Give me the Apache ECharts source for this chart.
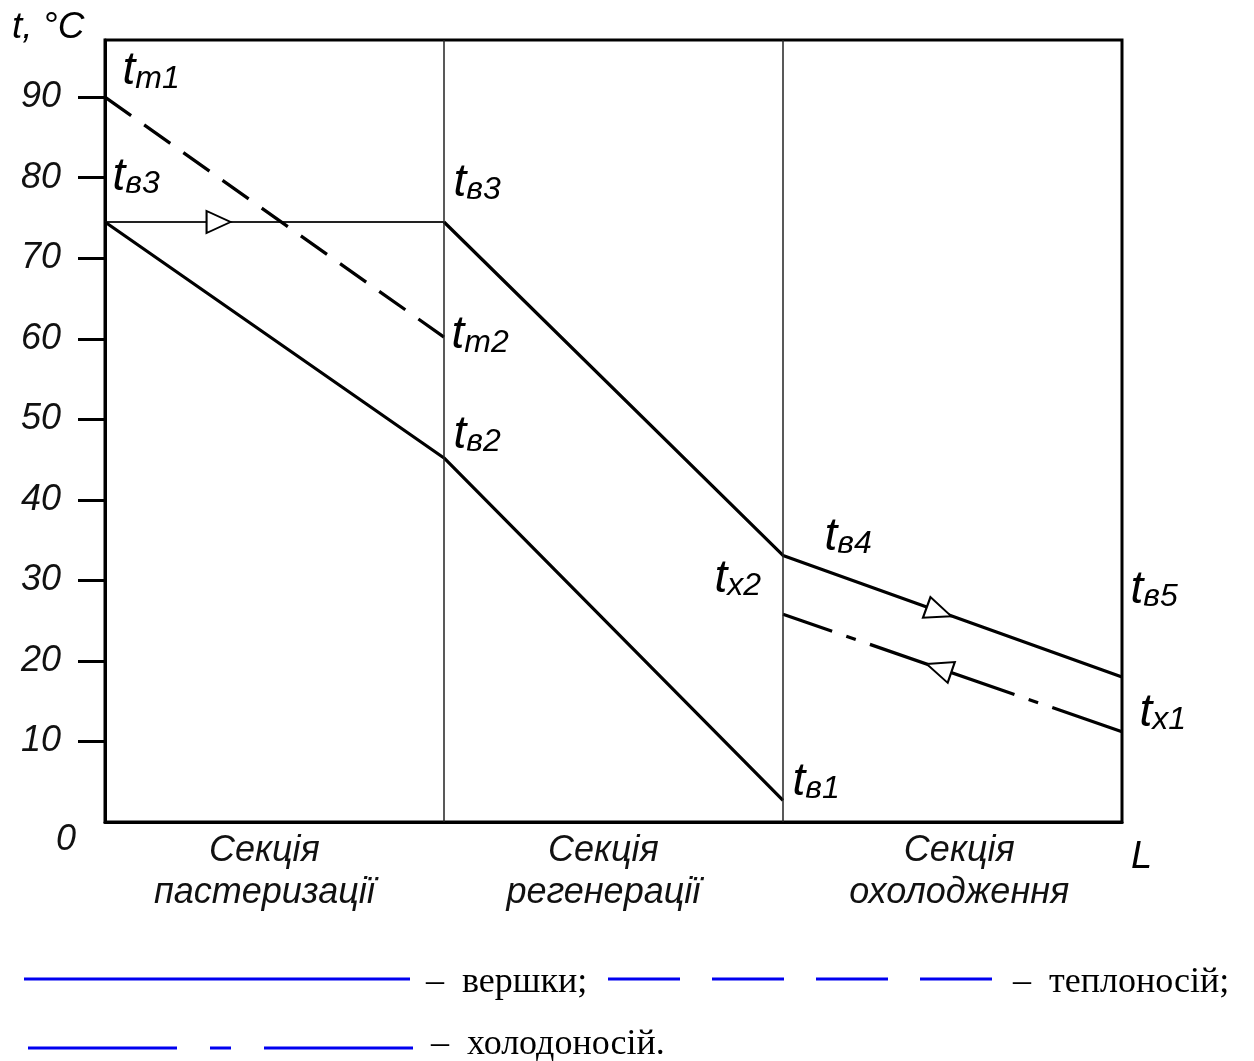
<!DOCTYPE html>
<html>
<head>
<meta charset="utf-8">
<script src="https://cdn.jsdelivr.net/npm/echarts@6/dist/echarts.min.js"></script>
<style>
html,body{margin:0;padding:0;background:#fff;}
#c{width:1254px;height:1061px;}
</style>
</head>
<body>
<div id="c"></div>
<script>
// ---- data ----
const sectionNames = ['Секція\nпастеризації', 'Секція\nрегенерації', 'Секція\nохолодження'];
const yTicks = [10, 20, 30, 40, 50, 60, 70, 80, 90];
// вершки (cream), two branches
const creamA = [[0, 74.5], [1, 45.2], [2, 2.7]];
const creamB = [[1, 74.5], [2, 33.1], [3, 18.0]];
const creamHold = [[0, 74.5], [1, 74.5]];
// теплоносій (heating medium)
const heating = [[0, 90], [1, 60.2]];
// холодоносій (cooling medium)
const cooling = [[2, 25.8], [3, 11.2]];
// flow arrows
const arrowPts = [[0.335, 74.5], [2.46, 26.1], [2.46, 19.1]];
// point labels
const labelPts = [[0, 90], [0, 74.5], [1, 74.5], [1, 60.2], [1, 45.2], [2, 33.1], [2, 25.8], [2, 2.7], [3, 18.0], [3, 11.2]];
const labelSubs = ['m1', 'в3', 'в3', 'm2', 'в2', 'в4', 'х2', 'в1', 'в5', 'х1'];

// ---- presentation ----
const labelOffsets = [[18, -2], [8, -21], [10, -15], [8, 22], [10, 1], [42, 5], [-68, -12], [10, 5], [9, -63], [18, 5]];
const arrowRot = [-90, -110, 71];
const arrowSize = [[22, 24], [22, 26], [22, 26]];

const SANS = '"Liberation Sans", Arial, sans-serif';
const SERIF = '"Liberation Serif", "Times New Roman", serif';
const YMAX = 97.1;

const chart = echarts.init(document.getElementById('c'), null, {renderer: 'canvas'});

const option = {
  backgroundColor: '#fff',
  animation: false,
  grid: {left: 105, right: 132, top: 40, bottom: 239, show: true, borderColor: '#000', borderWidth: 3, backgroundColor: 'transparent'},
  xAxis: {
    type: 'value', min: 0, max: 3,
    axisLine: {show: true, onZero: false, lineStyle: {color: '#000', width: 3}},
    axisTick: {show: false},
    splitLine: {show: false},
    axisLabel: {
      show: true,
      customValues: [0.47, 1.47, 2.52],
      formatter: function (v) { return sectionNames[Math.floor(v)]; },
      fontFamily: SANS, fontStyle: 'italic', fontSize: 36, color: '#111',
      lineHeight: 42, margin: 8
    }
  },
  yAxis: {
    type: 'value', min: 0, max: YMAX,
    axisLine: {show: true, onZero: false, lineStyle: {color: '#000', width: 3}},
    axisTick: {show: true, customValues: yTicks, length: 27, inside: false, lineStyle: {color: '#000', width: 3}},
    splitLine: {show: false},
    axisLabel: {
      show: true, customValues: yTicks, margin: 44,
      fontFamily: SANS, fontStyle: 'italic', fontSize: 36, color: '#111'
    }
  },
  series: [
    {
      type: 'line', data: creamHold, symbol: 'none', z: 3,
      lineStyle: {color: '#222', width: 2},
      markLine: {
        silent: true, symbol: ['none', 'none'], label: {show: false},
        lineStyle: {color: '#222', width: 1.5, type: 'solid'},
        data: [{xAxis: 1}, {xAxis: 2}]
      }
    },
    {type: 'line', data: creamA, symbol: 'none', z: 4, lineStyle: {color: '#000', width: 3.2}},
    {type: 'line', data: creamB, symbol: 'none', z: 4, lineStyle: {color: '#000', width: 3.2}},
    {type: 'line', data: heating, symbol: 'none', z: 4, lineStyle: {color: '#000', width: 3.2, type: [32, 16]}},
    {type: 'line', data: cooling, symbol: 'none', z: 4, lineStyle: {color: '#000', width: 3.2, type: [153, 15, 10, 15], dashOffset: 101}},
    {
      type: 'scatter', z: 6,
      data: arrowPts.map(function (p, i) {
        return {value: p, symbol: 'triangle', symbolSize: arrowSize[i], symbolRotate: arrowRot[i]};
      }),
      itemStyle: {color: '#fff', borderColor: '#000', borderWidth: 2, opacity: 1}
    },
    {
      type: 'scatter', z: 7, symbolSize: 1,
      itemStyle: {color: 'rgba(255,255,255,0)', opacity: 1},
      data: labelPts.map(function (p, i) {
        return {
          value: p,
          label: {
            show: true, position: labelOffsets[i], align: 'left', verticalAlign: 'bottom',
            color: '#000', opacity: 1,
            formatter: '{t|t}{s|' + labelSubs[i] + '}',
            rich: {
              t: {fontFamily: SANS, fontStyle: 'italic', fontSize: 46, lineHeight: 46, color: '#000', verticalAlign: 'bottom'},
              s: {fontFamily: SANS, fontStyle: 'italic', fontSize: 32, lineHeight: 32, color: '#000', verticalAlign: 'bottom'}
            }
          }
        };
      })
    }
  ],
  graphic: [
    {type: 'text', left: 12, top: 9, style: {text: 't, °C', font: 'italic 37px ' + SANS, fill: '#000'}},
    {type: 'text', left: 56, top: 822, style: {text: '0', font: 'italic 36px ' + SANS, fill: '#111'}},
    {type: 'text', left: 1131, top: 838, style: {text: 'L', font: 'italic 38px ' + SANS, fill: '#000'}},
    // legend
    {type: 'line', shape: {x1: 24, y1: 979, x2: 410, y2: 979}, style: {stroke: '#0000f0', lineWidth: 3}},
    {type: 'text', x: 426, y: 983, style: {text: '–  вершки;', font: '36px ' + SERIF, fill: '#000', verticalAlign: 'middle'}},
    {type: 'line', shape: {x1: 608, y1: 979, x2: 992, y2: 979}, style: {stroke: '#0000f0', lineWidth: 3, lineDash: [72, 32]}},
    {type: 'text', x: 1013, y: 983, style: {text: '–  теплоносій;', font: '36px ' + SERIF, fill: '#000', verticalAlign: 'middle'}},
    {type: 'line', shape: {x1: 28, y1: 1048, x2: 413, y2: 1048}, style: {stroke: '#0000f0', lineWidth: 3, lineDash: [149, 33, 21, 33]}},
    {type: 'text', x: 431, y: 1045, style: {text: '–  холодоносій.', font: '36px ' + SERIF, fill: '#000', verticalAlign: 'middle'}}
  ]
};
chart.setOption(option);
</script>
</body>
</html>
